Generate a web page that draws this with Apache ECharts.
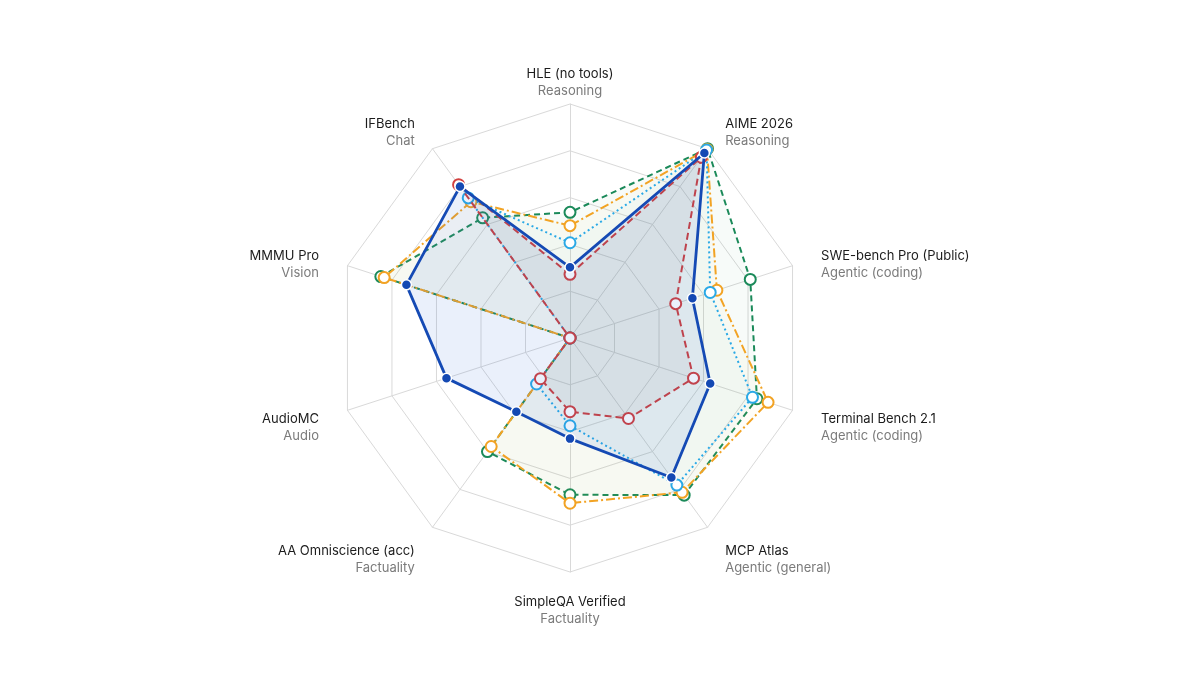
<!DOCTYPE html>
<html>
<head>
<meta charset="utf-8">
<script src="https://cdn.jsdelivr.net/npm/echarts@6/dist/echarts.min.js"></script>
<style>
	html, body {margin: 0; padding: 0; background: #fff;}
	#chart_radar {width: 1200px; height: 675px;}
</style>
</head>
<body>
<div id="chart_radar"></div>
<script>
// benchmarks, clockwise from the top
var benchmarks = ['HLE (no tools)', 'AIME 2026', 'SWE-bench Pro (Public)', 'Terminal Bench 2.1', 'MCP Atlas', 'SimpleQA Verified', 'AA Omniscience (acc)', 'AudioMC', 'MMMU Pro', 'IFBench'];
var groups = ['Reasoning', 'Reasoning', 'Agentic (coding)', 'Agentic (coding)', 'Agentic (general)', 'Factuality', 'Factuality', 'Audio', 'Vision', 'Chat'];

// scores in %, same order as benchmarks (0 = not reported)
var model_main = [30.2, 97.7, 55, 63, 73.7, 43, 39, 55.5, 73.5, 80];
var model_red = [27.2, 95.5, 47.5, 55.5, 42.5, 31.5, 21.5, 0, 0, 81];
var model_green = [53.7, 100, 81, 84, 83, 67, 60, 0, 85, 63.5];
var model_orange = [48, 99.6, 66, 89, 81.5, 70.6, 57.3, 0, 83.5, 72];
var model_sky = [40.7, 99.3, 63, 82, 77.7, 37.5, 24.3, 0, 0, 74];

// echarts lays indicators out counter-clockwise, so walk the list backwards
function ccw(arr){
	var out = [arr[0]];
	for (var i = arr.length - 1; i > 0; i--) out.push(arr[i]);
	return out;
}

var font = 'Inter, "Noto Sans", sans-serif';

function hollow(name, values, color, dash, area, z){
	return {
		name: name, type: 'radar', z: z,
		symbol: 'circle', symbolSize: 11,
		itemStyle: {color: '#fff', borderColor: color, borderWidth: 2},
		lineStyle: {color: color, width: 2, type: dash},
		areaStyle: {color: area},
		data: [{value: ccw(values), name: name}]
	};
}

var myChart = echarts.init(document.getElementById('chart_radar'));

var options = {
	animation: false,
	backgroundColor: '#fff',
	radar: {
		center: [570, 338],
		radius: 234,
		startAngle: 90,
		splitNumber: 5,
		shape: 'polygon',
		nameGap: 30,
		indicator: ccw(benchmarks).map(function(b){ return {name: b, min: 0, max: 100}; }),
		axisName: {
			verticalAlign: 'middle',
			padding: [17, 0, 0, 0],
			formatter: function(name){
				var g = groups[benchmarks.indexOf(name)];
				return '{n|' + name + '}\n{s|' + g + '}';
			},
			rich: {
				n: {fontFamily: font, fontSize: 13, lineHeight: 17, color: '#1c1c1c'},
				s: {fontFamily: font, fontSize: 13, lineHeight: 17, color: '#7b7b7b'}
			}
		},
		splitArea: {show: false},
		splitLine: {lineStyle: {color: '#d9d9d9', width: 1}},
		axisLine: {lineStyle: {color: '#d9d9d9', width: 1}}
	},
	series: [
		hollow('green', model_green, '#1b8a5a', [6, 4], 'rgba(27,138,90,0.05)', 1),
		hollow('orange', model_orange, '#f2a324', [9, 3, 2, 3], 'rgba(242,190,60,0.05)', 2),
		hollow('sky', model_sky, '#2aa9e6', [2, 3], 'rgba(42,169,230,0.04)', 3),
		hollow('red', model_red, '#d2403f', [7, 4], 'rgba(110,70,80,0.08)', 4),
		{
			name: 'main', type: 'radar', z: 5,
			symbol: 'circle', symbolSize: 10,
			itemStyle: {color: '#1449b3', borderColor: '#fff', borderWidth: 1.5},
			lineStyle: {color: '#1449b3', width: 2.8},
			areaStyle: {color: 'rgba(45,100,215,0.14)'},
			data: [{value: ccw(model_main), name: 'main'}]
		}
	]
};

myChart.setOption((options), true);
</script>
</body>
</html>
